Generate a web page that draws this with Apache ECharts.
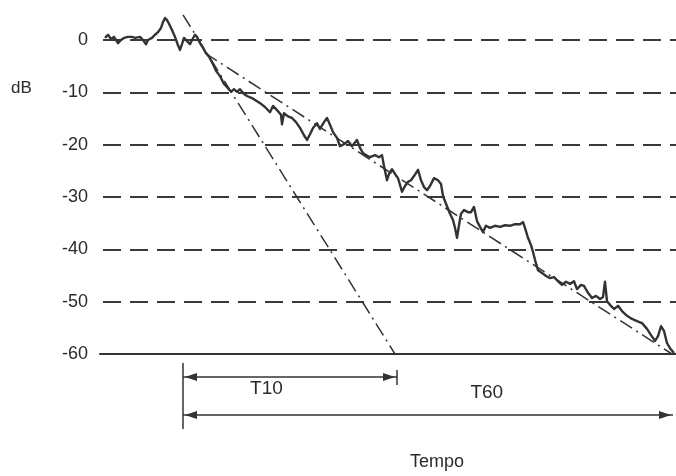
<!DOCTYPE html>
<html>
<head>
<meta charset="utf-8">
<title>Decadimento sonoro</title>
<script src="https://cdn.jsdelivr.net/npm/echarts@6/dist/echarts.min.js"></script>
<style>
  html, body { margin: 0; padding: 0; background: #ffffff; }
  #chart { width: 676px; height: 476px; }
</style>
</head>
<body>
<div id="chart"></div>
<script>
// Measured decay of the sound level after the source stops (time in ms, level in dB)
const decayTime = [
  5, 8, 11, 14, 18, 21, 24, 28, 32, 35, 40, 43, 46, 48, 52, 55, 58, 61, 63, 65,
  67, 69, 72, 75, 78, 80, 82, 84, 86, 88, 90, 92, 95, 97, 100, 103, 106, 109, 113, 116,
  120, 124, 128, 131, 134, 137, 140, 144, 147, 152, 157, 161, 165, 170, 173, 177, 181, 182, 184, 188,
  192, 196, 200, 204, 207, 210, 213, 217, 220, 224, 227, 230, 233, 237, 240, 244, 248, 252, 257, 260,
  263, 266, 270, 275, 279, 282, 284, 287, 289, 292, 295, 298, 302, 305, 308, 311, 314, 318, 321, 324,
  327, 330, 334, 338, 341, 343, 346, 350, 353, 355, 357, 359, 361, 364, 368, 371, 374, 377, 380, 383,
  386, 390, 395, 400, 405, 410, 415, 420, 423, 425, 428, 431, 433, 435, 438, 442, 446, 450, 454, 458,
  462, 466, 470, 474, 477, 481, 484, 488, 492, 496, 500, 503, 505, 507, 510, 514, 518, 522, 527, 532,
  537, 542, 547, 551, 555, 558, 561, 564, 567, 570, 574
];
const decayLevel = [
  0.4, 1.0, 0.2, 0.6, -0.6, 0.0, 0.4, 0.6, 0.6, 0.4, 0.6, 0.0, -0.8, 0.0, 0.4, 1.0, 1.5, 2.3, 3.4, 4.2,
  3.8, 3.1, 1.9, 0.6, -1.0, -1.9, -0.8, 0.4, 0.6, -0.4, -0.8, 0.0, 1.0, 0.6, -0.6, -1.5, -2.5, -3.2, -4.6, -5.9,
  -6.9, -8.4, -9.2, -9.9, -9.4, -9.9, -9.4, -10.3, -10.7, -11.1, -11.7, -12.2, -12.8, -13.8, -12.6, -13.4, -14.3, -16.1, -14.0, -14.6,
  -14.9, -15.7, -16.8, -18.2, -19.1, -18.0, -16.8, -15.9, -17.0, -15.7, -14.9, -16.2, -17.6, -18.7, -20.3, -19.9, -19.3, -20.3, -19.1, -20.6,
  -21.6, -22.0, -22.4, -22.0, -22.4, -22.0, -24.1, -26.8, -25.6, -24.7, -25.6, -26.4, -29.0, -27.9, -27.1, -26.8, -26.0, -24.8, -26.8, -28.1,
  -28.7, -27.9, -26.4, -26.8, -27.5, -29.8, -31.3, -33.2, -34.4, -35.9, -37.8, -35.4, -33.2, -32.5, -32.9, -32.9, -31.9, -34.6, -35.7, -36.7,
  -35.5, -35.9, -35.5, -35.7, -35.4, -35.5, -35.2, -35.2, -34.8, -35.9, -37.8, -39.2, -40.5, -42.0, -44.0, -44.5, -45.1, -45.5, -45.3, -46.1,
  -46.8, -46.2, -46.6, -46.1, -47.6, -46.8, -47.0, -48.3, -49.3, -48.9, -49.5, -49.1, -46.2, -49.9, -50.6, -51.4, -50.8, -51.8, -52.7, -53.3,
  -53.7, -54.1, -55.2, -56.4, -57.5, -56.6, -54.7, -55.6, -57.9, -58.9, -59.8
];

// Straight-line fits: early decay (extrapolated from the first 10 dB) and the full 60 dB decay
const earlyFitTime = [83, 295];
const earlyFitLevel = [4.8, -60];
const fullFitTime = [105, 572];
const fullFitLevel = [-2.5, -60];

// Time spans marked under the axis
const spanLabels = ['T10', 'T60'];
const spanStart = [83, 83];
const spanEnd = [297, 573];

// Level axis ticks
const levelTicks = [0, -10, -20, -30, -40, -50, -60];

const timeMin = 0;
const timeMax = 576;

const ink = '#333333';
const fontFamily = "'Liberation Sans', Arial, sans-serif";

const pairs = (xs, ys) => xs.map((x, i) => [x, ys[i]]);

// Offsets (px) below the -60 dB axis for each span row, and label placement along each span
const rowOffset = [23, 61];
const labelFraction = [0.39, 0.62];
const labelOffset = [12, -22];

function renderSpan(params, api) {
  const i = params.dataIndex;
  const floor = levelTicks[levelTicks.length - 1];
  const p0 = api.coord([api.value(0), floor]);
  const p1 = api.coord([api.value(1), floor]);
  const y = p0[1] + rowOffset[i];
  const x0 = p0[0];
  const x1 = p1[0];
  const style = { stroke: ink, lineWidth: 1.5 };
  const children = [
    { type: 'line', shape: { x1: x0, y1: y, x2: x1, y2: y }, style: style },
    { type: 'polygon', shape: { points: [[x0 + 2, y], [x0 + 14, y - 4], [x0 + 14, y + 4]] }, style: { fill: ink } },
    { type: 'polygon', shape: { points: [[x1 - 2, y], [x1 - 14, y - 4], [x1 - 14, y + 4]] }, style: { fill: ink } },
    {
      type: 'text',
      style: {
        x: x0 + (x1 - x0) * labelFraction[i],
        y: y + labelOffset[i],
        text: spanLabels[i],
        fill: '#2a2a2a',
        font: '19px ' + fontFamily,
        align: 'center',
        verticalAlign: 'middle'
      }
    }
  ];
  if (i === 0) {
    // short end stop on the T10 span
    children.push({ type: 'line', shape: { x1: x1, y1: y - 7, x2: x1, y2: y + 8 }, style: style });
  } else {
    // common starting line for both spans
    children.push({ type: 'line', shape: { x1: x0, y1: p0[1] + 9, x2: x0, y2: p0[1] + 75 }, style: style });
  }
  return { type: 'group', children: children };
}

const chart = echarts.init(document.getElementById('chart'), null, { renderer: 'canvas' });

chart.setOption({
  backgroundColor: '#ffffff',
  animation: false,
  textStyle: { fontFamily: fontFamily },
  grid: { left: 100, right: 0, top: 40, bottom: 122, containLabel: false },
  xAxis: {
    type: 'value',
    min: timeMin,
    max: timeMax,
    axisLine: { show: true, onZero: false, lineStyle: { color: ink, width: 2 } },
    axisTick: { show: false },
    axisLabel: { show: false },
    splitLine: { show: false }
  },
  yAxis: {
    type: 'value',
    min: levelTicks[levelTicks.length - 1],
    max: levelTicks[0],
    interval: 10,
    axisLine: { show: false },
    axisTick: { show: false },
    axisLabel: {
      margin: 12,
      color: '#2a2a2a',
      fontSize: 18,
      fontFamily: fontFamily,
      formatter: (v) => String(v)
    },
    splitLine: {
      show: true,
      lineStyle: { color: '#3a3a3a', width: 2, type: [18, 9], dashOffset: -3 }
    }
  },
  graphic: [
    {
      type: 'text',
      left: 11,
      top: 80,
      style: { text: 'dB', fill: '#2a2a2a', font: '17px ' + fontFamily }
    },
    {
      type: 'text',
      left: 410,
      top: 453,
      style: { text: 'Tempo', fill: '#2a2a2a', font: '18px ' + fontFamily }
    }
  ],
  series: [
    {
      name: 'early fit',
      type: 'line',
      data: pairs(earlyFitTime, earlyFitLevel),
      showSymbol: false,
      clip: false,
      lineStyle: { color: ink, width: 1.5, type: [14, 5, 2, 5] },
      z: 2
    },
    {
      name: 'full fit',
      type: 'line',
      data: pairs(fullFitTime, fullFitLevel),
      showSymbol: false,
      clip: false,
      lineStyle: { color: ink, width: 1.5, type: [14, 5, 2, 5] },
      z: 2
    },
    {
      name: 'decay',
      type: 'line',
      data: pairs(decayTime, decayLevel),
      showSymbol: false,
      clip: false,
      lineStyle: { color: '#333333', width: 2.4, join: 'round' },
      z: 3
    },
    {
      name: 'spans',
      type: 'custom',
      coordinateSystem: 'cartesian2d',
      clip: false,
      encode: { x: [0, 1] },
      data: spanStart.map((s, i) => [s, spanEnd[i], i]),
      renderItem: renderSpan,
      z: 4
    }
  ]
});
</script>
</body>
</html>
